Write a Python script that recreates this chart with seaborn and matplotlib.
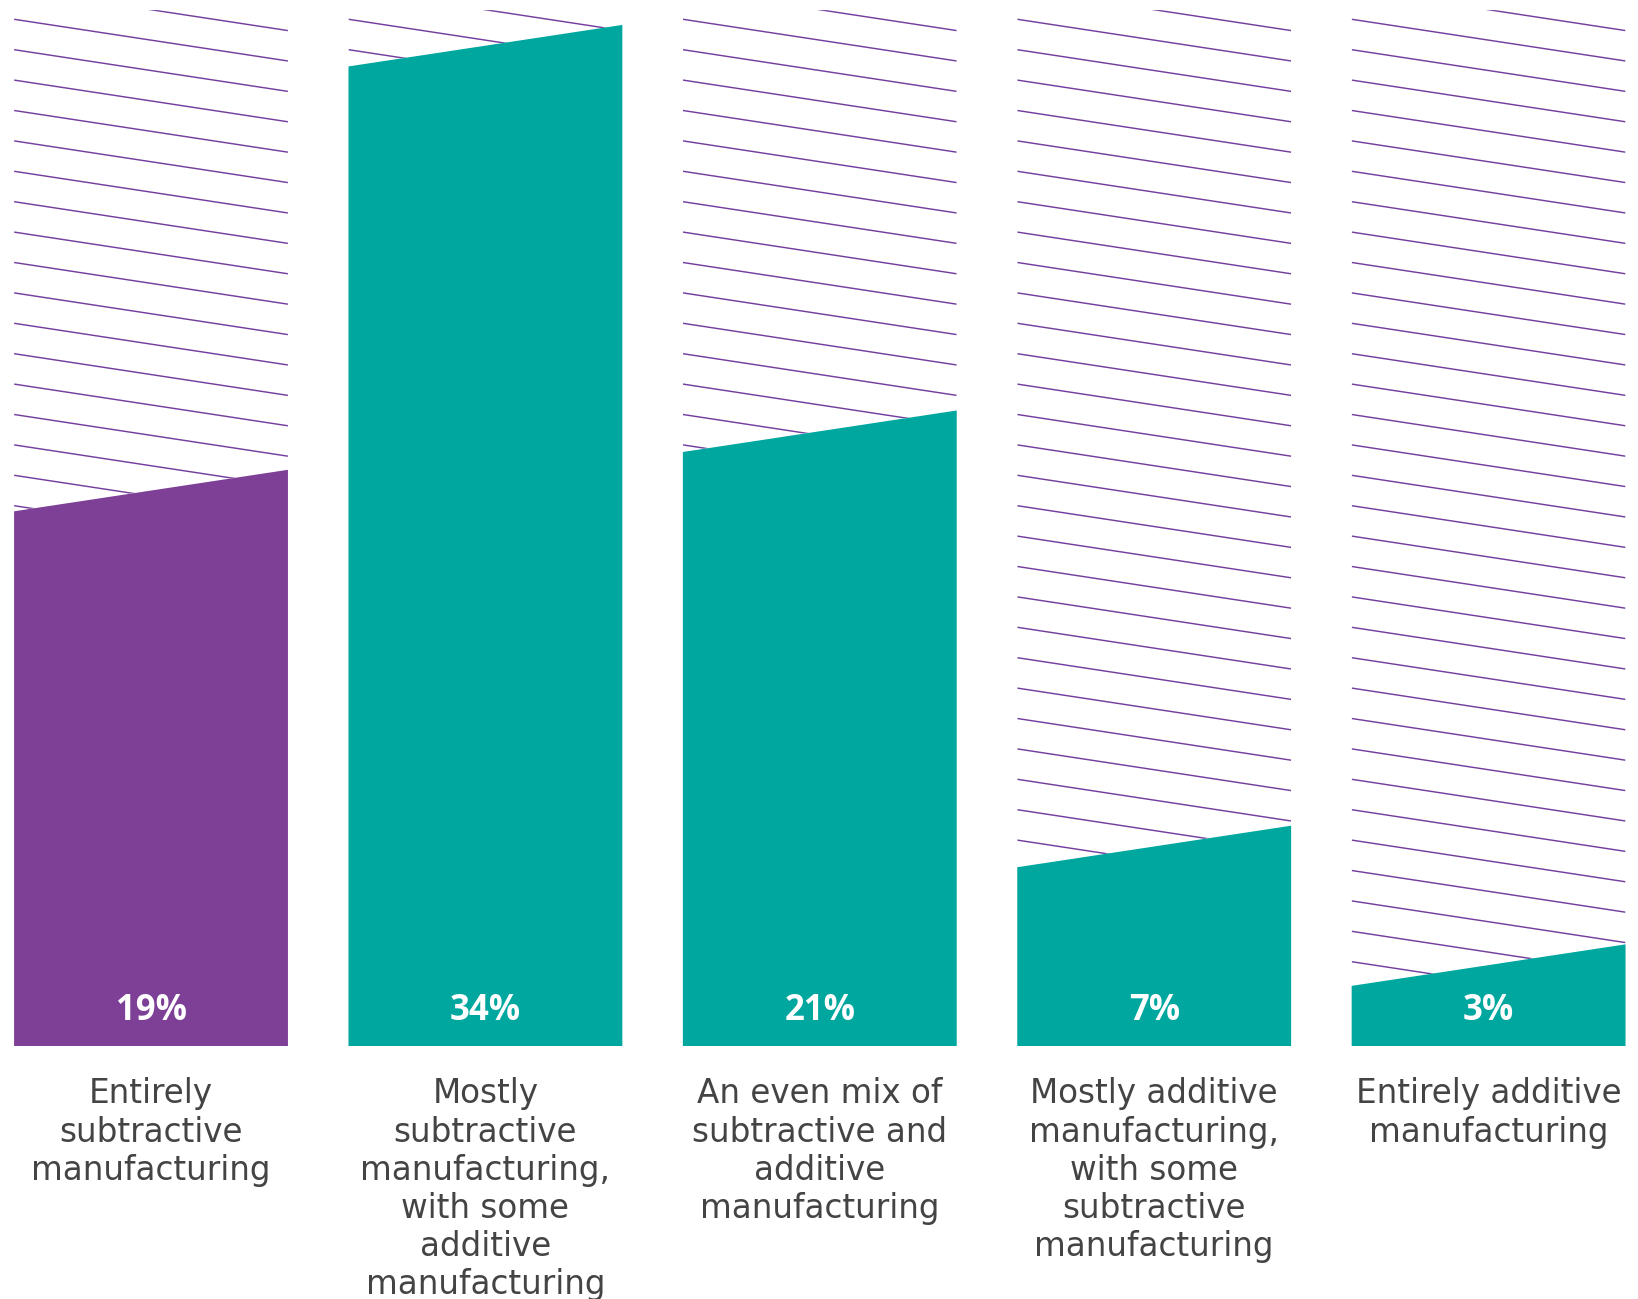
import matplotlib
matplotlib.use("Agg")
import matplotlib.pyplot as plt
from matplotlib.patches import Polygon
from matplotlib.transforms import blended_transform_factory
import seaborn as sns
import pandas as pd

# Survey shares by manufacturing mix
categories = [
    "Entirely\nsubtractive\nmanufacturing",
    "Mostly\nsubtractive\nmanufacturing,\nwith some\nadditive\nmanufacturing",
    "An even mix of\nsubtractive and\nadditive\nmanufacturing",
    "Mostly additive\nmanufacturing,\nwith some\nsubtractive\nmanufacturing",
    "Entirely additive\nmanufacturing",
]
values = [19, 34, 21, 7, 3]

PURPLE = "#7D4096"
TEAL = "#00A79F"
HATCH = "#7440A0"
palette = [PURPLE, TEAL, TEAL, TEAL, TEAL]

sns.set_theme(style="white")
plt.rcParams["font.family"] = ["DejaVu Sans"]

df = pd.DataFrame({"category": categories, "share": values})

fig = plt.figure(figsize=(16.38, 12.99), dpi=100, facecolor="white")
ax = fig.add_axes([0, 0.1948, 1, 0.8052])

sns.barplot(data=df, x="category", y="share", hue="category", palette=palette,
            width=0.819, saturation=1, legend=False, ax=ax, linewidth=0)

ax.set_xlim(-0.4516, 4.4468)
ax.set_ylim(0.974, 36.24)
ax.axis("off")

slant = 1.40          # rise of the sloped bar top, in value units
hatch_top = 35.90     # upper edge of the hatched area
hatch_first = 35.59   # first hatch line at a bar's left edge
hatch_gap = 1.025     # vertical gap between hatch lines
hatch_drop = 1.406    # fall of each hatch line across a bar

base = 0.0
bars = list(ax.patches)
for bar, color in zip(bars, palette):
    x0 = bar.get_x()
    w = bar.get_width()
    x1 = x0 + w
    v = bar.get_height()
    # replace the flat seaborn rectangle by the same bar with a sloped top
    bar.set_visible(False)
    ax.add_patch(Polygon([(x0, base), (x0, v), (x1, v + slant), (x1, base)],
                         closed=True, facecolor=color, edgecolor="none",
                         linewidth=0, zorder=3))
    # hatched remainder above the bar
    clip = Polygon([(x0, v), (x1, v + slant), (x1, hatch_top), (x0, hatch_top)],
                   closed=True, transform=ax.transData, facecolor="none",
                   edgecolor="none")
    for k in range(-3, 40):
        yl = hatch_first - k * hatch_gap
        line, = ax.plot([x0, x1], [yl, yl - hatch_drop], color=HATCH,
                        linewidth=1.05, solid_capstyle="butt", zorder=1)
        line.set_clip_path(clip)

trans = blended_transform_factory(ax.transData, ax.transAxes)
for i, (cat, v) in enumerate(zip(categories, values)):
    ax.text(i, 0.0335, f"{v}%", transform=trans, ha="center", va="center",
            color="white", fontsize=25, fontweight="bold", zorder=5,
            family=["Open Sans", "DejaVu Sans"])
    ax.text(i, -0.0300, cat, transform=trans, ha="center", va="top",
            color="#444444", fontsize=23.5, linespacing=1.2, clip_on=False)

fig.savefig("out.png", dpi=100, facecolor="white")
